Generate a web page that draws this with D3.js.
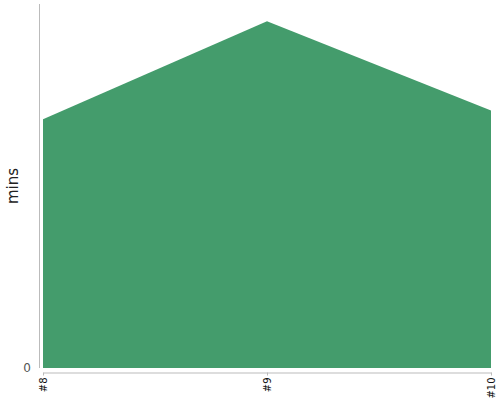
<!DOCTYPE html>
<html><head><meta charset="utf-8">
<script src="https://cdn.jsdelivr.net/npm/d3@7"></script>
<style>body{margin:0;background:#fff}svg{display:block}</style>
</head><body>
<svg id="c" width="500" height="400"></svg>
<script>
const categories = ["#8", "#9", "#10"];
const minutes = [28.7, 40.0, 29.7];
const yDomainMax = 42;
const yTicks = [0];
const yLabel = "mins";

const svg = d3.select("#c");
const x = d3.scalePoint().domain(categories).range([43, 491]);
const y = d3.scaleLinear().domain([0, yDomainMax]).range([368, 4]);
const data = categories.map((c, i) => ({c, v: minutes[i]}));

svg.append("path").datum(data)
  .attr("fill", "#449c6c")
  .attr("d", d3.area().x(d => x(d.c)).y0(y(0)).y1(d => y(d.v)));

// y axis
const ya = svg.append("g").attr("transform", "translate(39.5,0)")
  .call(d3.axisLeft(y).tickValues(yTicks).tickSize(0).tickPadding(8.5));
ya.select(".domain").attr("stroke", "#bbb").attr("d", `M0,${y.range()[1]}V${y.range()[0]}`);
ya.selectAll("text").attr("font-family", "DejaVu Sans, sans-serif").attr("font-size", 12).attr("fill", "#555");

// x axis
const xa = svg.append("g").attr("transform", "translate(0,372.5)")
  .call(d3.axisBottom(x).tickSize(3).tickSizeOuter(0));
xa.select(".domain").attr("stroke", "#bbb");
xa.selectAll(".tick line").attr("stroke", "#bbb");
xa.selectAll("text")
  .attr("font-family", "DejaVu Sans, sans-serif").attr("font-size", 10).attr("fill", "#111")
  .attr("text-anchor", "end").attr("dy", "0.35em")
  .attr("transform", "rotate(-90)").attr("x", -5).attr("y", 0);

svg.append("text")
  .attr("transform", `translate(18,${(y.range()[0] + y.range()[1]) / 2}) rotate(-90)`)
  .attr("text-anchor", "middle")
  .attr("font-family", "DejaVu Sans, sans-serif").attr("font-size", 15).attr("fill", "#222")
  .text(yLabel);
</script>
</body></html>
